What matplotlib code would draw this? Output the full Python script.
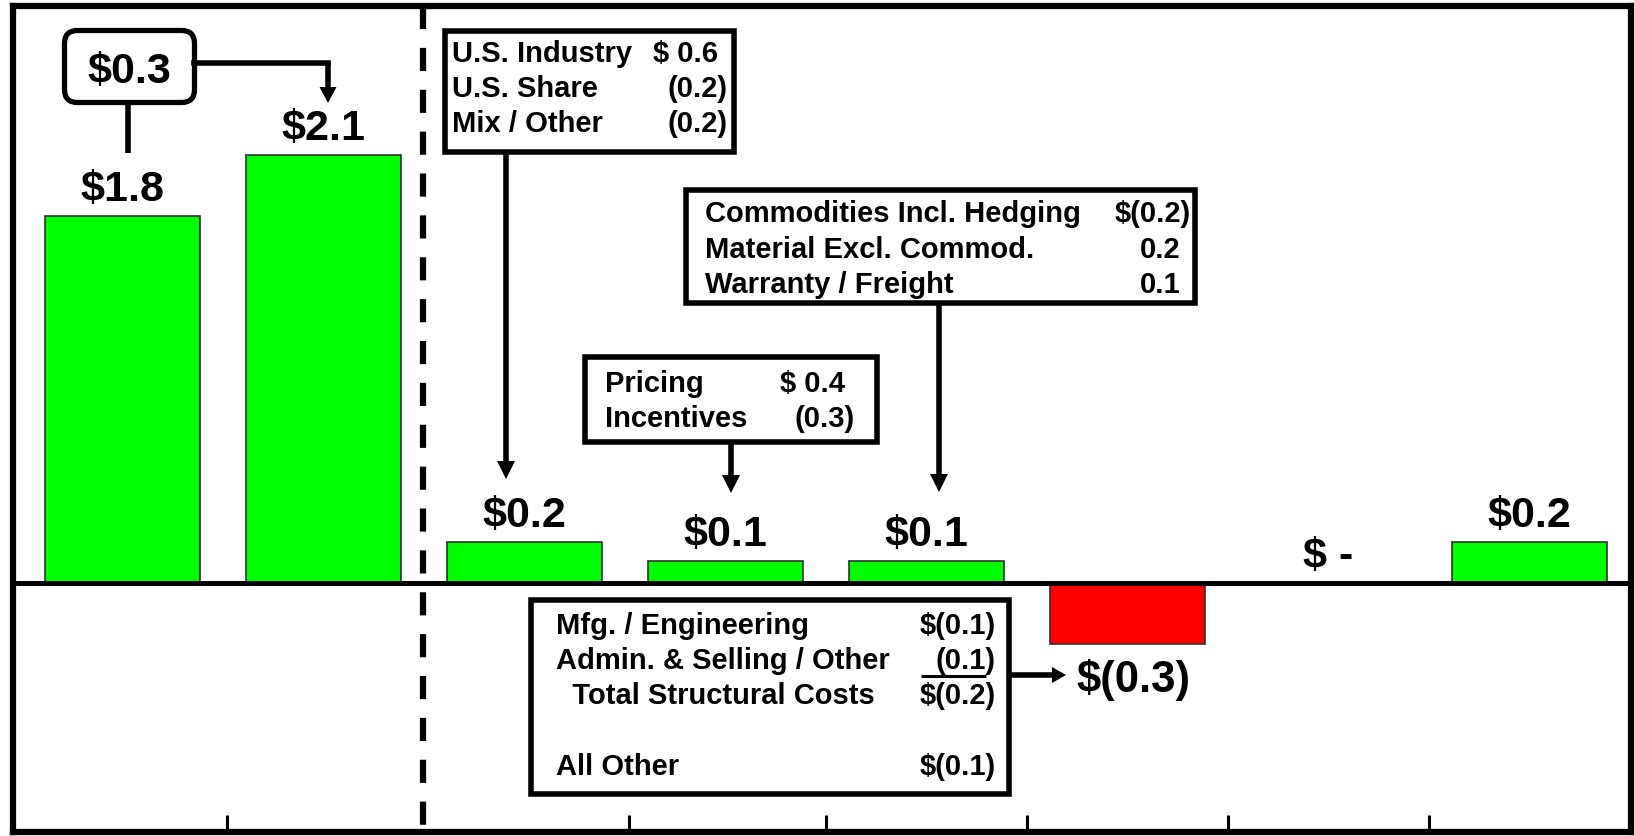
import matplotlib
matplotlib.use("Agg")
import matplotlib.pyplot as plt
from matplotlib.patches import Rectangle, FancyBboxPatch, Polygon
from matplotlib.lines import Line2D
from matplotlib.transforms import Affine2D

plt.rcParams['font.family'] = ['Liberation Sans', 'DejaVu Sans']
plt.rcParams['font.weight'] = 'bold'

W, H = 1634, 836

# bridge steps (no category labels are shown on the chart)
categories = ["Prior Period", "Current Period", "Volume / Mix", "Net Pricing",
              "Material / Other", "Structural Costs", "Other", "Change"]
values = [1.8, 2.1, 0.2, 0.11, 0.11, -0.3, 0.0, 0.2]
labels = ["$1.8", "$2.1", "$0.2", "$0.1", "$0.1", "$(0.3)", "$ -", "$0.2"]
change_label = "$0.3"

# detail boxes
volume_items = ["U.S. Industry", "U.S. Share", "Mix / Other"]
volume_vals = ["$ 0.6", "(0.2)", "(0.2)"]
pricing_items = ["Pricing", "Incentives"]
pricing_vals = ["$ 0.4", "(0.3)"]
cost_items = ["Commodities Incl. Hedging", "Material Excl. Commod.", "Warranty / Freight"]
cost_vals = ["$(0.2)", "0.2", "0.1"]
struct_items = ["Mfg. / Engineering", "Admin. & Selling / Other", "  Total Structural Costs", "", "All Other"]
struct_vals = ["$(0.1)", "(0.1)", "$(0.2)", "", "$(0.1)"]

fig = plt.figure(figsize=(W / 100, H / 100), dpi=100)
# pixel coordinates, origin top-left
pt = Affine2D().scale(1.0 / W, -1.0 / H).translate(0, 1) + fig.transFigure

ax = fig.add_axes([13 / W, (H - 832) / H, (1631 - 13) / W, (832 - 6) / H])
x = list(range(len(values)))
colors = ['#00FF00' if v >= 0 else '#FF0000' for v in values]
ax.bar(x, values, width=0.77, color=colors, edgecolor='#303030', linewidth=1.2, zorder=2)
ax.set_xlim(-0.545, 7.505)
ax.set_ylim(-1.22, 2.83)
ax.axhline(0, color='black', lw=3.6, zorder=3)
ax.plot([1.495, 1.495], [2.83, -1.22], color='black', lw=4.5, ls=(0, (3.7, 3.0)), zorder=3)

ax.set_xticks([0.52, 2.52, 3.5, 4.5, 5.5, 6.5])
ax.set_yticks([])
ax.tick_params(axis='x', direction='in', length=12, width=2.2, color='black', labelbottom=False)
for s in ax.spines.values():
    s.set_linewidth(4.5)
    s.set_color('black')

for i, (v, lab) in enumerate(zip(values, labels)):
    if v >= 0:
        ax.annotate(lab, (i, v), xytext=(0, 10.8), textcoords='offset points',
                    ha='center', va='baseline', fontsize=31, fontweight='bold')
    else:
        fig.text(1076, 692, lab, transform=pt, ha='left', va='baseline',
                 fontsize=31.5, fontweight='bold')


def line(xs, ys, lw=4, cap='butt'):
    fig.add_artist(Line2D(xs, ys, transform=pt, color='black', lw=lw,
                          solid_capstyle=cap, solid_joinstyle='miter'))


def arrow(x0, y0, x1, y1, hl=18, hw=18, lw=4):
    dx, dy = x1 - x0, y1 - y0
    n = (dx ** 2 + dy ** 2) ** 0.5
    ux, uy = dx / n, dy / n
    bx, by = x1 - ux * hl, y1 - uy * hl
    line([x0, bx + ux], [y0, by + uy], lw=lw)
    px, py = -uy * hw / 2, ux * hw / 2
    fig.add_artist(Polygon([(x1, y1), (bx + px, by + py), (bx - px, by - py)],
                           closed=True, transform=pt, facecolor='black', edgecolor='none'))


def detail_box(x0, y0, w, h, items, vals, left, right, baselines):
    fig.add_artist(Rectangle((x0, y0), w, h, transform=pt, facecolor='white',
                             edgecolor='black', lw=4))
    for it, val, yb in zip(items, vals, baselines):
        fig.text(left, yb, it, transform=pt, ha='left', va='baseline',
                 fontsize=21, fontweight='bold')
        xr = right if val.endswith(')') else right - 10
        fig.text(xr, yb, val, transform=pt, ha='right', va='baseline',
                 fontsize=21, fontweight='bold')


detail_box(445, 31, 289, 121, volume_items, volume_vals, 452, 728, [61.5, 97, 132])
arrow(506, 152, 506, 479)

detail_box(686, 190, 509, 113, cost_items, cost_vals, 705, 1191, [222, 258, 293])
arrow(939, 303, 939, 492)

detail_box(585, 357, 292, 85, pricing_items, pricing_vals, 605, 855, [392, 427])
arrow(731, 442, 731, 493)

detail_box(531, 600, 478, 194, struct_items, struct_vals, 556, 996, [634, 669, 704, 740, 775])
line([921, 986], [675.5, 675.5], lw=2.2)
arrow(1009, 675, 1066, 675, hl=14, hw=16)

# change between the two periods
fig.add_artist(FancyBboxPatch((64.5, 30.5), 130, 72, boxstyle="round,pad=0,rounding_size=13",
                              transform=pt, facecolor='white', edgecolor='black', lw=3.8))
fig.text(129, 83, change_label, transform=pt, ha='center', va='baseline',
         fontsize=31, fontweight='bold')
line([128, 128], [102.5, 153])
line([194.5, 328], [63, 63], cap='projecting')
arrow(328, 63, 328, 103, hl=16, hw=17)

fig.savefig("out.png", dpi=100)
